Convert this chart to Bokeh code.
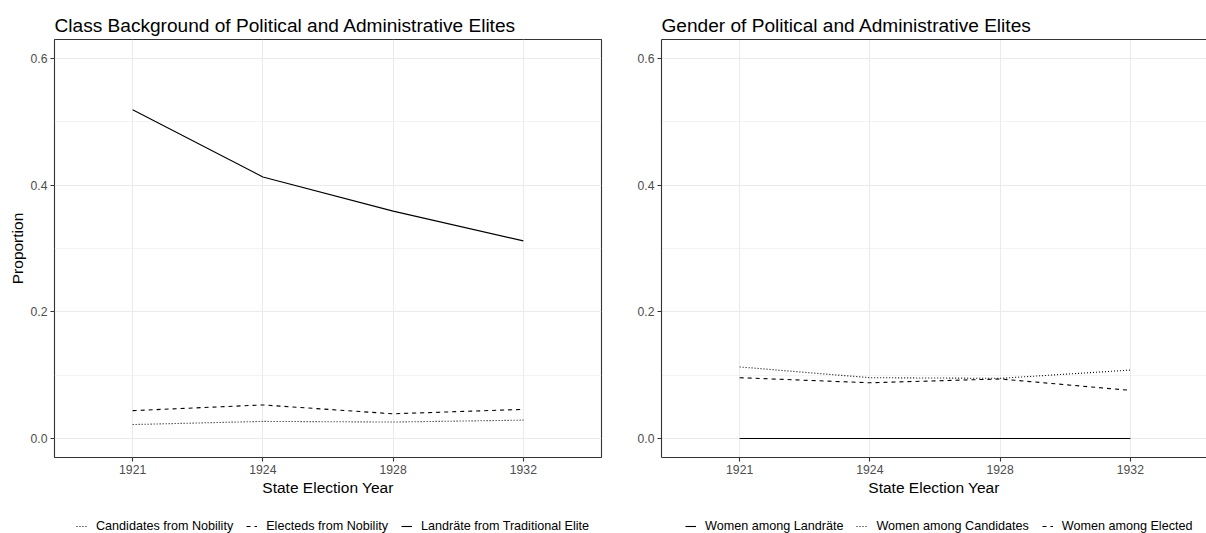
from bokeh.plotting import figure
from bokeh.layouts import row, column
from bokeh.models import (FixedTicker, Legend, LegendItem, LinearAxis, Range1d,
                          NumeralTickFormatter)
from bokeh.embed import file_html
from bokeh.resources import INLINE

# State election years (discrete axis)
years = ["1921", "1924", "1928", "1932"]

# Class background shares
candidates_nobility = [0.022, 0.027, 0.026, 0.029]
electeds_nobility = [0.044, 0.053, 0.039, 0.046]
landraete_trad_elite = [0.519, 0.413, 0.359, 0.312]

# Gender shares
women_landraete = [0.0, 0.0, 0.0, 0.0]
women_candidates = [0.113, 0.096, 0.095, 0.108]
women_elected = [0.096, 0.088, 0.094, 0.076]

y_ticks = [0.0, 0.2, 0.4, 0.6]
y_minor = [0.1, 0.3, 0.5]

FONT = "Liberation Sans"
BORDER = "#333333"
GRID = "#EBEBEB"
TICK_TEXT = "#4D4D4D"

STYLES = {"solid": "solid", "dashed": "4 4", "dotted": "1 2"}

PANEL_W = 603
PLOT_H = 510
LEGEND_H = 23


def make_panel(title, series, left_border, x_end, ylabel, framed):
    xpos = list(range(1, len(years) + 1))
    p = figure(width=PANEL_W, height=PLOT_H, output_backend="svg", toolbar_location=None,
               x_range=Range1d(0.4, x_end), y_range=Range1d(-0.03, 0.63),
               min_border_left=left_border,
               min_border_right=PANEL_W - left_border - 547 if framed else 0,
               min_border_top=39, min_border_bottom=PLOT_H - 457,
               background_fill_color="white", border_fill_color="white")

    p.title.text = title
    p.title.text_font = FONT
    p.title.text_font_size = "19.1px"
    p.title.text_font_style = "normal"
    p.title.text_color = "black"
    p.title.align = "left"
    p.title.standoff = 8

    # grid
    p.xgrid.ticker = FixedTicker(ticks=xpos)
    p.ygrid.ticker = FixedTicker(ticks=y_ticks, minor_ticks=y_minor)
    for g in (p.xgrid[0], p.ygrid[0]):
        g.grid_line_color = GRID
        g.grid_line_width = 1.1
    p.ygrid.minor_grid_line_color = GRID
    p.ygrid.minor_grid_line_width = 0.6

    # axes
    xa = p.xaxis[0]
    xa.ticker = FixedTicker(ticks=xpos)
    xa.major_label_overrides = {i: yr for i, yr in zip(xpos, years)}
    xa.axis_label = "State Election Year"
    ya = p.yaxis[0]
    ya.ticker = FixedTicker(ticks=y_ticks, minor_ticks=y_minor)
    ya.formatter = NumeralTickFormatter(format="0.0")
    ya.axis_label = ylabel
    for ax in (xa, ya):
        ax.major_label_text_font = FONT
        ax.major_label_text_font_size = "12.2px"
        ax.major_label_text_color = TICK_TEXT
        ax.axis_label_text_font = FONT
        ax.axis_label_text_font_size = "15.5px"
        ax.axis_label_text_font_style = "normal"
        ax.axis_label_text_color = "black"
        ax.major_tick_line_color = BORDER
        ax.major_tick_line_width = 1.1
        ax.major_tick_out = 4
        ax.major_tick_in = 0
        ax.minor_tick_line_color = None
        ax.major_label_standoff = 3
        ax.axis_label_standoff = 2
    if framed:
        p.outline_line_color = BORDER
        p.outline_line_width = 1.1
        xa.axis_line_color = None
        ya.axis_line_color = None
    else:
        p.outline_line_color = None
        xa.axis_line_color = BORDER
        ya.axis_line_color = BORDER
        xa.axis_line_width = 1.1
        ya.axis_line_width = 1.1
        top = LinearAxis(ticker=FixedTicker(ticks=[]), axis_line_color=BORDER,
                         axis_line_width=1.1, major_tick_out=0, major_tick_in=0,
                         major_label_standoff=0, minor_tick_line_color=None)
        p.add_layout(top, "above")

    for label, values, style in series:
        p.line(xpos, values, line_color="black", line_width=1.1,
               line_dash=STYLES[style])
    return p


def make_legend(series, x_offset):
    # strip under each panel holding its horizontal key; the series lines
    # sit outside its (unit) ranges so only the key entries are visible
    xpos = list(range(1, len(years) + 1))
    lg = figure(width=PANEL_W, height=LEGEND_H, output_backend="svg",
                toolbar_location=None, x_axis_type=None, y_axis_type=None,
                x_range=Range1d(-1, -0.5), y_range=Range1d(-1, -0.5),
                min_border=0, outline_line_color=None,
                background_fill_color="white", border_fill_color="white")
    lg.grid.visible = False
    items = []
    for label, values, style in series:
        r = lg.line(xpos, values, line_color="black", line_width=1.1,
                    line_dash=STYLES[style])
        items.append(LegendItem(label=label, renderers=[r]))
    legend = Legend(items=items, orientation="horizontal", location=(x_offset, 0.5),
                    label_text_font=FONT, label_text_font_size="12.6px",
                    label_text_color="black", glyph_width=11, glyph_height=12,
                    label_height=12, label_standoff=9, spacing=13, padding=0,
                    margin=0, border_line_color=None, background_fill_alpha=0)
    lg.add_layout(legend)
    return lg


class_series = [
    ("Candidates from Nobility", candidates_nobility, "dotted"),
    ("Electeds from Nobility", electeds_nobility, "dashed"),
    ("Landräte from Traditional Elite", landraete_trad_elite, "solid"),
]
gender_series = [
    ("Women among Landräte", women_landraete, "solid"),
    ("Women among Candidates", women_candidates, "dotted"),
    ("Women among Elected", women_elected, "dashed"),
]

left = make_panel("Class Background of Political and Administrative Elites",
                  class_series, left_border=54, x_end=4.6, ylabel="Proportion",
                  framed=True)
right = make_panel("Gender of Political and Administrative Elites",
                   gender_series, left_border=58, x_end=0.4 + 545 / 130.24,
                   ylabel="", framed=False)

left_key = make_legend(class_series, 76)
right_key = make_legend(gender_series, 82)

layout = column(row(left, right, spacing=0), row(left_key, right_key, spacing=0),
                spacing=0)
open("out.html", "w").write(file_html(layout, INLINE))
